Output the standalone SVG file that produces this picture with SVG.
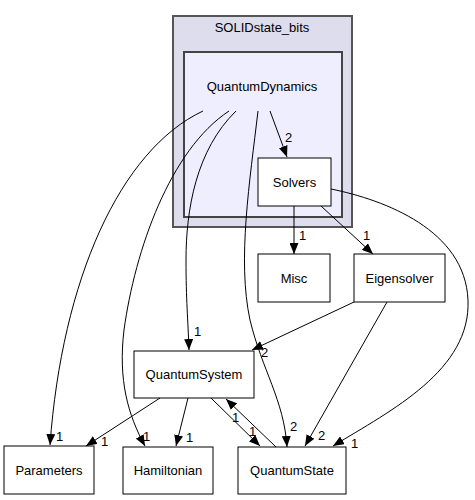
<svg xmlns="http://www.w3.org/2000/svg" width="475" height="500" viewBox="0 0 475 500">
<style>
text{font-family:"Liberation Sans",Arial,sans-serif;font-size:13px;fill:#000}
.c{text-anchor:middle}
.n{fill:#fff;stroke:#000;stroke-width:1}
.e{fill:none;stroke:#000;stroke-width:1;marker-end:url(#ah)}
</style>
<defs>
<marker id="ah" viewBox="0 0 11 9" refX="11" refY="4.5" markerWidth="11" markerHeight="9" markerUnits="userSpaceOnUse" orient="auto">
<path d="M0,0 L11,4.5 L0,9 z" fill="#000"/>
</marker>
</defs>
<rect width="475" height="500" fill="#fff"/>
<g id="cluster_SOLIDstate_bits">
<rect x="173" y="16" width="179" height="211" fill="#ddddee" stroke="#555" stroke-width="2"/>
<text class="c" x="262" y="32">SOLIDstate_bits</text>
</g>
<g id="cluster_QuantumDynamics">
<rect x="184" y="52" width="158" height="165" fill="#eeeeff" stroke="#444" stroke-width="2"/>
<text class="c" x="262" y="91">QuantumDynamics</text>
</g>
<g id="node_Solvers"><rect class="n" x="258" y="158" width="73" height="48"/><text class="c" x="294.5" y="187">Solvers</text></g>
<g id="node_Misc"><rect class="n" x="258" y="254" width="72" height="48"/><text class="c" x="294" y="283">Misc</text></g>
<g id="node_Eigensolver"><rect class="n" x="354" y="254" width="91" height="48"/><text class="c" x="399.5" y="283">Eigensolver</text></g>
<g id="node_QuantumSystem"><rect class="n" x="134" y="351" width="120" height="47"/><text class="c" x="194" y="379">QuantumSystem</text></g>
<g id="node_Parameters"><rect class="n" x="4" y="446" width="90" height="48"/><text class="c" x="49" y="475">Parameters</text></g>
<g id="node_Hamiltonian"><rect class="n" x="123" y="447" width="90" height="47"/><text class="c" x="168" y="475">Hamiltonian</text></g>
<g id="node_QuantumState"><rect class="n" x="238" y="447" width="108" height="47"/><text class="c" x="292" y="475">QuantumState</text></g>
<g id="connectors">
<path class="e" d="M270,111 L287,157"/>
<text x="285" y="142">2</text>
<path class="e" d="M203,111 C120,150 62,280 50,445"/>
<text x="56" y="441">1</text>
<path class="e" d="M229,111 C170,150 135,250 124,330 C118,380 128,415 145,446"/>
<text x="143" y="441">1</text>
<path class="e" d="M236,111 C196,150 186,210 186,260 C186,300 188,320 189,350"/>
<text x="194" y="336">1</text>
<path class="e" d="M258,111 C250,180 237,260 250,320 C262,370 284,400 287,447"/>
<text x="290" y="431">2</text>
<path class="e" d="M294,206 L294,254"/>
<text x="299" y="240">1</text>
<path class="e" d="M321,206 L373,254"/>
<text x="363" y="240">1</text>
<path class="e" d="M331,189 C385,200 465,230 468,300 C471,370 392,410 333,446"/>
<text x="351" y="448">1</text>
<path class="e" d="M354,302 L252,350"/>
<text x="261" y="357">2</text>
<path class="e" d="M387,302 L305,446"/>
<text x="318" y="440">2</text>
<path class="e" d="M160,398 L86,446"/>
<text x="101" y="446">1</text>
<path class="e" d="M188,398 L176,446"/>
<text x="186" y="442">1</text>
<path class="e" d="M211,398 L260,446"/>
<text x="249" y="436">1</text>
<path class="e" d="M276,447 L226,399"/>
<text x="232" y="422">1</text>
</g>
</svg>
